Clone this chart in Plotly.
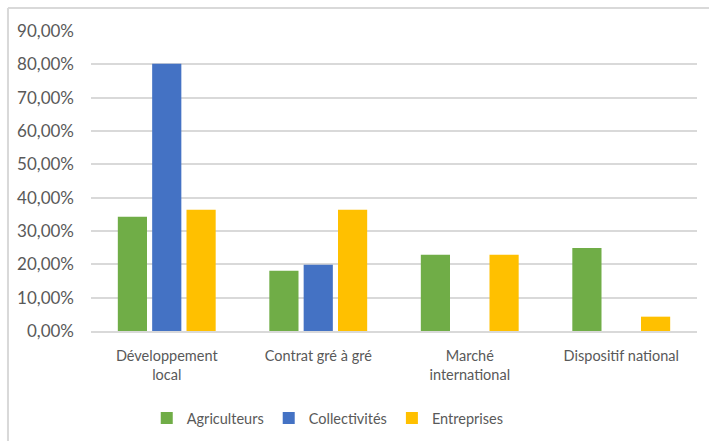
import plotly.graph_objects as go

categories = ["Développement<br>local", "Contrat gré à gré", "Marché<br>international", "Dispositif national"]
agriculteurs = [0.343, 0.181, 0.229, 0.249]
collectivites = [0.802, 0.199, None, None]
entreprises = [0.364, 0.364, 0.229, 0.043]
series_names = ["Agriculteurs", "Collectivités", "Entreprises"]
colors = ["#70AD47", "#4472C4", "#FFC000"]

fig = go.Figure()
for name, vals, col in zip(series_names, [agriculteurs, collectivites, entreprises], colors):
    fig.add_trace(go.Bar(x=categories, y=vals, name=name,
                         marker=dict(color=col, line=dict(width=0))))

font_family = "Lato, sans-serif"
fig.update_layout(
    width=709, height=441,
    margin=dict(l=91, r=12, t=31, b=110, autoexpand=False),
    paper_bgcolor="white", plot_bgcolor="white",
    separators=", ",
    barmode="group", bargap=0.32, bargroupgap=0.15,
    font=dict(family=font_family, size=14.5, color="#595959"),
    showlegend=True,
    legend=dict(orientation="h", x=0.092, y=-0.29, xanchor="left", yanchor="middle",
                font=dict(size=14.5, color="#595959"), itemwidth=30,
                bgcolor="rgba(0,0,0,0)"),
    xaxis=dict(showgrid=False, showline=True, linecolor="#d9d9d9", linewidth=1.5,
               ticks="", ticklabelstandoff=11, tickfont=dict(size=14.5, color="#595959")),
    yaxis=dict(range=[0, 0.9], dtick=0.1, tickformat=".2%", showgrid=True,
               gridcolor="#d9d9d9", gridwidth=1.5, zeroline=False, showline=False,
               ticks="", ticklabelstandoff=16,
               tickfont=dict(size=17, color="#595959")),
)

# outer chart border (only top and left edges visible)
fig.add_shape(type="line", xref="paper", yref="paper", x0=-0.137, x1=1.2, y0=1.0767, y1=1.0767,
              line=dict(color="#d9d9d9", width=2))
fig.add_shape(type="line", xref="paper", yref="paper", x0=-0.137, x1=-0.137, y0=1.0767, y1=-0.5,
              line=dict(color="#d9d9d9", width=2))

fig.write_html("out.html")
